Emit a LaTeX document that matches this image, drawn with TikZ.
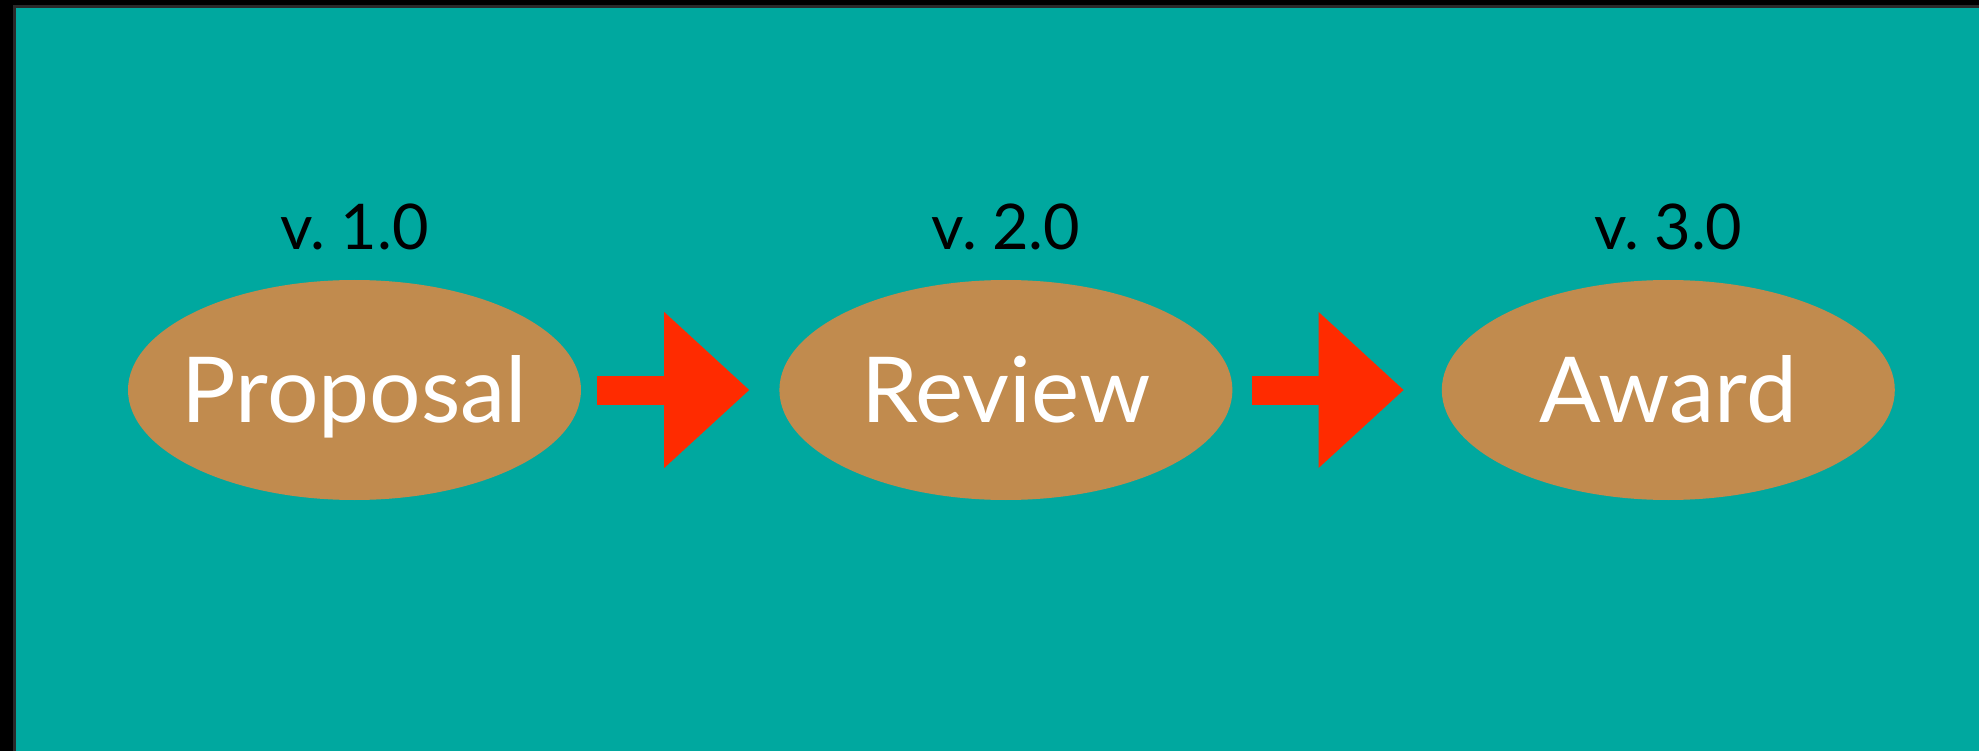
\documentclass[tikz,border=0pt]{standalone}
\usepackage{fontspec}
\setmainfont{Lato}[WordSpace=0.6]
\usetikzlibrary{positioning,arrows.meta,shapes.geometric}
\pgfdeclarelayer{background layer}
\pgfsetlayers{background layer,main}
\definecolor{slideteal}{HTML}{00A89F}
\definecolor{stagetan}{HTML}{C18B4E}
\definecolor{flowred}{HTML}{FF2B00}
\definecolor{framegray}{HTML}{2A2A2A}
\newcommand{\stage}[4]{
	\node [stage,#2] (#1) {#3};
	\node [version,above=30pt of #1] (#1v) {#4}
}

\begin{document}
\begin{tikzpicture}[x=1pt,y=-1pt,
	stage/.style={ellipse,fill=stagetan,text=white,minimum width=453pt,minimum height=220pt,
		inner sep=0pt,inner xsep=-40pt,text height=65pt,text depth=0pt,font=\fontsize{91}{100}\selectfont},
	version/.style={inner sep=0pt,text depth=0pt,font=\fontsize{63}{70}\selectfont},
	flow/.style={flowred,line width=29pt,-{Triangle[length=85pt,width=156pt,line width=0pt]}}]
	% On main layer
	\stage {prop}{at={(354.5,390)}}{Proposal}{v. 1.0};
	\stage {rev}{right=198pt of prop}{Review}{v. 2.0};
	\stage {award}{right=209pt of rev}{Award}{v. 3.0};
	\draw [flow,shorten <=16pt,shorten >=30pt] (prop) -- (rev);
	\draw [flow,shorten <=19pt,shorten >=38pt] (rev) -- (award);

	% On background layer
	\begin{pgfonlayer}{background layer}
	\fill [black] (0,0) rectangle (1979,751);
	\fill [framegray] (13,5) rectangle (1979,751);
	\fill [slideteal] (16,8) rectangle (1979,751);
	\end{pgfonlayer}
\end{tikzpicture}
\end{document}
